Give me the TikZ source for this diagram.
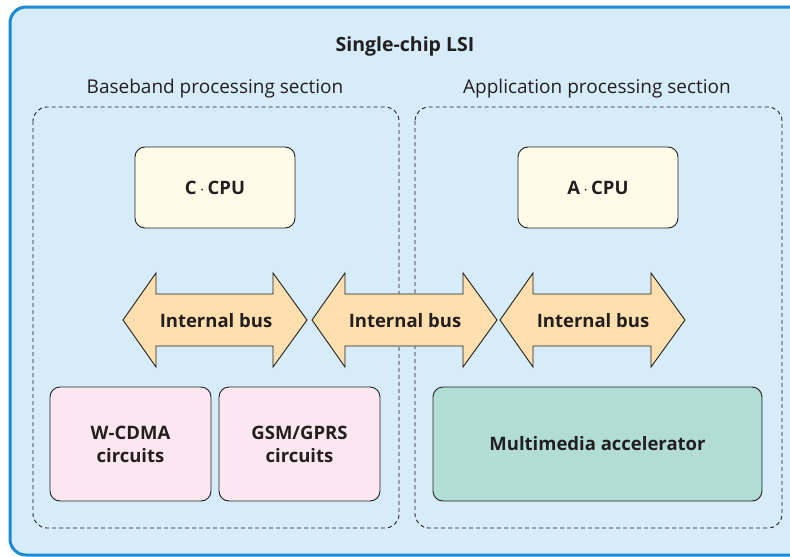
\documentclass[tikz,border=0pt]{standalone}
\usepackage{fontspec}
\setmainfont{Open Sans}
\definecolor{bgblue}{HTML}{D6ECF9}
\definecolor{edgeblue}{HTML}{1B8AD2}
\definecolor{cream}{HTML}{FFFBE8}
\definecolor{pinkf}{HTML}{FCE6F0}
\definecolor{greenf}{HTML}{B2DDD5}
\definecolor{busf}{HTML}{FFDFAE}
\definecolor{ink}{HTML}{231F20}
\tikzset{
  blk/.style={draw=ink, line width=0.9pt, rounded corners=10pt, text=ink, font=\fontsize{18.5}{23}\selectfont\bfseries, align=center},
  section/.style={draw=ink, line width=0.9pt, dash pattern=on 4pt off 3pt, rounded corners=14pt},
  bus/.style={draw=ink, line width=0.9pt, fill=busf},
  lbl/.style={text=ink, font=\fontsize{19}{22}\selectfont},
  buslbl/.style={text=ink, font=\fontsize{18.5}{22}\selectfont\bfseries},
}
\begin{document}
\begin{tikzpicture}[x=1pt,y=-1pt]
\useasboundingbox (0,0) rectangle (790,557);
\begin{scope}
\clip (0,0) rectangle (790,557);
\draw[fill=bgblue, draw=edgeblue, line width=3pt, rounded corners=16pt] (10,7) rectangle (820,555);
\end{scope}
\node[lbl, font=\fontsize{19.5}{22}\selectfont\bfseries] (title) at (405,46) {Single-chip LSI};
\node[lbl] (bbl) at (215,89) {Baseband processing section};
\node[lbl] (apl) at (597,89) {Application processing section};
\draw[section] (33,107) rectangle (399,528);
\draw[section] (415,107) rectangle (782,528);
\node[blk, fill=cream, minimum width=160pt, minimum height=81pt] (ccpu) at (215,187.5) {C\,$\cdot$\,CPU};
\node[blk, fill=cream, minimum width=160pt, minimum height=81pt] (acpu) at (598,187.5) {A\,$\cdot$\,CPU};
% buses
\draw[bus] (123,320) -- (156,273) -- (156,294) -- (273,294) -- (273,273) -- (307,320) -- (273,367) -- (273,346) -- (156,346) -- (156,367) -- cycle;
\draw[bus] (312,320) -- (345,273) -- (345,294) -- (463,294) -- (463,273) -- (497,320) -- (463,367) -- (463,346) -- (345,346) -- (345,367) -- cycle;
\draw[bus] (500,320) -- (533,273) -- (533,294) -- (651,294) -- (651,273) -- (685,320) -- (651,367) -- (651,346) -- (533,346) -- (533,367) -- cycle;
\node[buslbl] (bus1) at (216,321) {Internal bus};
\node[buslbl] (bus2) at (405,321) {Internal bus};
\node[buslbl] (bus3) at (593,321) {Internal bus};
\node[blk, fill=pinkf, minimum width=161pt, minimum height=114pt] (wcdma) at (130.5,444) {W-CDMA\\circuits};
\node[blk, fill=pinkf, minimum width=161pt, minimum height=114pt] (gsm) at (299.5,444) {GSM/GPRS\\circuits};
\node[blk, fill=greenf, minimum width=329pt, minimum height=114pt] (mm) at (597.5,444) {Multimedia accelerator};
\end{tikzpicture}
\end{document}
